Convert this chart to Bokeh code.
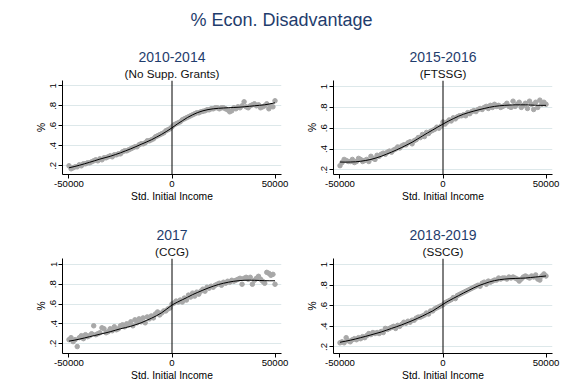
from bokeh.plotting import figure
from bokeh.models import Range1d, FixedTicker, Span, Label, ColumnDataSource, Title
from bokeh.layouts import column, row
from bokeh.embed import file_html
from bokeh.resources import INLINE

FONT = "Liberation Sans"
NAVY = "#1f3d6d"

main_title = "% Econ. Disadvantage"
panel_titles = ["2010-2014", "2015-2016", "2017", "2018-2019"]
panel_subtitles = ["(No Supp. Grants)", "(FTSSG)", "(CCG)", "(SSCG)"]
x_title = "Std. Initial Income"
y_title = "%"
x_ticks = [-50000, 0, 50000]
x_tick_labels = ["-50000", "0", "50000"]
y_ticks = [0.2, 0.4, 0.6, 0.8, 1.0]
y_tick_labels = [".2", ".4", ".6", ".8", "1"]

# bin centres of the binned scatter (every 1000) and of the fitted line (every 2500)
bin_x = [-50000 + 1000 * i for i in range(101)]
fit_x = [-50000 + 2500 * i for i in range(41)]

pts_2010 = [0.20, 0.17, 0.18, 0.19, 0.19, 0.21, 0.20, 0.22, 0.22, 0.23,
            0.23, 0.24, 0.25, 0.26, 0.25, 0.27, 0.26, 0.28, 0.28, 0.29,
            0.30, 0.29, 0.31, 0.31, 0.32, 0.32, 0.34, 0.35, 0.35, 0.36,
            0.37, 0.38, 0.39, 0.39, 0.41, 0.42, 0.42, 0.43, 0.45, 0.45,
            0.46, 0.47, 0.49, 0.50, 0.51, 0.52, 0.53, 0.55, 0.56, 0.57,
            0.59, 0.61, 0.62, 0.63, 0.64, 0.66, 0.67, 0.68, 0.69, 0.70,
            0.71, 0.72, 0.73, 0.73, 0.74, 0.745, 0.75, 0.76, 0.76, 0.77,
            0.77, 0.78, 0.78, 0.77, 0.78, 0.78, 0.77, 0.76, 0.74, 0.75,
            0.78, 0.77, 0.79, 0.78, 0.80, 0.84, 0.79, 0.78, 0.80, 0.81,
            0.82, 0.80, 0.81, 0.78, 0.79, 0.80, 0.82, 0.77, 0.80, 0.79,
            0.85]
fit_2010 = [0.18, 0.192, 0.205, 0.22, 0.235, 0.251, 0.267, 0.281, 0.295, 0.312,
            0.33, 0.35, 0.37, 0.392, 0.415, 0.437, 0.46, 0.487, 0.515, 0.546,
            0.58, 0.617, 0.65, 0.683, 0.71, 0.733, 0.75, 0.762, 0.77, 0.775,
            0.778, 0.781, 0.783, 0.786, 0.79, 0.795, 0.80, 0.805, 0.81, 0.819,
            0.83]

pts_2015 = [0.24, 0.27, 0.30, 0.29, 0.28, 0.28, 0.30, 0.27, 0.28, 0.31,
            0.30, 0.28, 0.29, 0.30, 0.28, 0.33, 0.31, 0.30, 0.34, 0.33,
            0.35, 0.36, 0.35, 0.37, 0.38, 0.37, 0.39, 0.40, 0.42, 0.41,
            0.43, 0.44, 0.44, 0.46, 0.47, 0.45, 0.48, 0.49, 0.51, 0.51,
            0.54, 0.52, 0.56, 0.55, 0.57, 0.58, 0.59, 0.61, 0.60, 0.62,
            0.66, 0.64, 0.66, 0.68, 0.67, 0.70, 0.69, 0.71, 0.72, 0.72,
            0.73, 0.72, 0.75, 0.74, 0.76, 0.77, 0.76, 0.78, 0.79, 0.78,
            0.80, 0.81, 0.79, 0.82, 0.80, 0.83, 0.81, 0.82, 0.80, 0.81,
            0.82, 0.84, 0.81, 0.80, 0.86, 0.81, 0.83, 0.85, 0.80, 0.82,
            0.84, 0.79, 0.86, 0.83, 0.78, 0.85, 0.80, 0.87, 0.83, 0.85,
            0.83]
fit_2015 = [0.275, 0.274, 0.275, 0.277, 0.282, 0.29, 0.30, 0.314, 0.33, 0.35,
            0.37, 0.392, 0.415, 0.44, 0.465, 0.495, 0.525, 0.555, 0.583, 0.612,
            0.64, 0.667, 0.692, 0.715, 0.735, 0.751, 0.765, 0.778, 0.79, 0.801,
            0.81, 0.816, 0.82, 0.823, 0.825, 0.825, 0.825, 0.823, 0.821, 0.82,
            0.82]

pts_2017 = [0.24, 0.26, 0.22, 0.24, 0.17, 0.26, 0.28, 0.25, 0.29, 0.27,
            0.28, 0.30, 0.38, 0.29, 0.30, 0.31, 0.36, 0.35, 0.31, 0.32,
            0.35, 0.33, 0.37, 0.34, 0.35, 0.38, 0.39, 0.37, 0.40, 0.39,
            0.42, 0.38, 0.44, 0.41, 0.45, 0.42, 0.46, 0.41, 0.47, 0.45,
            0.48, 0.46, 0.50, 0.52, 0.49, 0.51, 0.53, 0.53, 0.55, 0.56,
            0.60, 0.61, 0.63, 0.62, 0.64, 0.62, 0.66, 0.64, 0.69, 0.67,
            0.71, 0.68, 0.72, 0.70, 0.73, 0.75, 0.73, 0.77, 0.76, 0.78,
            0.77, 0.79, 0.80, 0.81, 0.79, 0.82, 0.81, 0.83, 0.82, 0.84,
            0.83, 0.84, 0.85, 0.86, 0.80, 0.86, 0.87, 0.85, 0.87, 0.80,
            0.84, 0.86, 0.88, 0.85, 0.83, 0.81, 0.92, 0.91, 0.89, 0.90,
            0.80]
fit_2017 = [0.225, 0.234, 0.245, 0.257, 0.27, 0.282, 0.295, 0.307, 0.32, 0.335,
            0.35, 0.362, 0.375, 0.392, 0.41, 0.433, 0.456, 0.482, 0.512, 0.55,
            0.59, 0.618, 0.643, 0.668, 0.695, 0.718, 0.74, 0.761, 0.78, 0.797,
            0.81, 0.821, 0.83, 0.836, 0.84, 0.841, 0.84, 0.838, 0.836, 0.835,
            0.835]

pts_2018 = [0.24, 0.25, 0.24, 0.29, 0.26, 0.25, 0.27, 0.28, 0.27, 0.29,
            0.28, 0.30, 0.29, 0.31, 0.33, 0.32, 0.34, 0.33, 0.34, 0.33,
            0.35, 0.34, 0.38, 0.37, 0.38, 0.39, 0.40, 0.38, 0.41, 0.40,
            0.42, 0.44, 0.43, 0.45, 0.44, 0.46, 0.46, 0.48, 0.49, 0.49,
            0.50, 0.51, 0.53, 0.52, 0.55, 0.55, 0.57, 0.58, 0.59, 0.60,
            0.61, 0.63, 0.64, 0.65, 0.66, 0.68, 0.67, 0.70, 0.71, 0.72,
            0.73, 0.74, 0.75, 0.76, 0.77, 0.78, 0.79, 0.80, 0.79, 0.82,
            0.83, 0.81, 0.84, 0.83, 0.84, 0.85, 0.85, 0.87, 0.86, 0.87,
            0.87, 0.86, 0.88, 0.87, 0.88, 0.87, 0.86, 0.84, 0.86, 0.88,
            0.89, 0.88, 0.87, 0.89, 0.88, 0.90, 0.86, 0.85, 0.89, 0.91,
            0.89]
fit_2018 = [0.245, 0.255, 0.265, 0.277, 0.29, 0.303, 0.317, 0.331, 0.345, 0.362,
            0.38, 0.397, 0.415, 0.435, 0.455, 0.477, 0.50, 0.525, 0.55, 0.582,
            0.615, 0.645, 0.672, 0.698, 0.725, 0.75, 0.775, 0.797, 0.815, 0.832,
            0.845, 0.854, 0.86, 0.864, 0.866, 0.868, 0.87, 0.875, 0.88, 0.885,
            0.89]

series_pts = [pts_2010, pts_2015, pts_2017, pts_2018]
series_fit = [fit_2010, fit_2015, fit_2017, fit_2018]
y_ranges = [(0.113, 1.053), (0.155, 1.059), (0.10, 1.06), (0.136, 1.06)]

FW = 219
ROW_FH = [94, 95]
ROW_TOP = [42, 42]
ROW_BOTTOM = [42, 30]
COL_LEFT = [62, 42]


def make_panel(i):
    r, c = i // 2, i % 2
    fh = ROW_FH[r]
    p = figure(frame_width=FW, frame_height=fh,
               x_range=Range1d(-53150, 53150), y_range=Range1d(*y_ranges[i]),
               output_backend="svg", toolbar_location=None,
               min_border_left=COL_LEFT[c], min_border_right=10,
               min_border_top=ROW_TOP[r], min_border_bottom=ROW_BOTTOM[r],
               background_fill_color="white", border_fill_color="white")
    p.outline_line_color = None
    p.xgrid.grid_line_color = None
    p.ygrid.grid_line_color = "#dde8ea"
    p.ygrid.grid_line_width = 1
    p.ygrid.ticker = FixedTicker(ticks=y_ticks)

    p.xaxis.ticker = FixedTicker(ticks=x_ticks)
    p.xaxis.major_label_overrides = dict(zip(x_ticks, x_tick_labels))
    p.yaxis.ticker = FixedTicker(ticks=y_ticks)
    p.yaxis.major_label_overrides = dict(zip(y_ticks, y_tick_labels))
    p.yaxis.major_label_orientation = "vertical"
    p.xaxis.axis_label = x_title
    p.yaxis.axis_label = y_title
    for ax in (p.xaxis, p.yaxis):
        ax.axis_line_color = "black"
        ax.axis_line_width = 1
        ax.major_tick_line_color = "black"
        ax.major_tick_in = 0
        ax.major_tick_out = 4
        ax.minor_tick_line_color = None
        ax.major_label_text_font = FONT
        ax.major_label_text_font_size = "9.6px"
        ax.major_label_text_color = "black"
        ax.axis_label_text_font = FONT
        ax.axis_label_text_font_size = "10.3px"
        ax.axis_label_text_font_style = "normal"
        ax.axis_label_text_color = "black"
        ax.major_label_standoff = 2
    p.xaxis.axis_label_standoff = 1
    p.yaxis.axis_label_standoff = 1

    p.add_layout(Span(location=0, dimension="height", line_color="black", line_width=1))

    src = ColumnDataSource(dict(x=bin_x, y=series_pts[i]))
    p.scatter("x", "y", source=src, size=4.5, fill_color="#a8a8a8", line_color="#a8a8a8")
    fsrc = ColumnDataSource(dict(x=fit_x, y=series_fit[i]))
    p.line("x", "y", source=fsrc, line_color="black", line_width=1.0)

    p.add_layout(Title(text=panel_subtitles[i], align="center", standoff=2,
                       text_font=FONT, text_font_size="11.7px", text_font_style="normal",
                       text_color="#111111"), "above")
    p.add_layout(Title(text=panel_titles[i], align="center", standoff=3,
                       text_font=FONT, text_font_size="14px", text_font_style="normal",
                       text_color=NAVY), "above")
    return p


panels = [make_panel(i) for i in range(4)]

t = figure(width=562, height=38, x_range=Range1d(0, 1), y_range=Range1d(0, 1),
           x_axis_type=None, y_axis_type=None, output_backend="svg",
           toolbar_location=None, min_border=0)
t.outline_line_color = None
t.grid.visible = False
t.add_layout(Label(x=281, y=19, x_units="screen", y_units="screen", text=main_title,
                   text_align="center", text_baseline="middle", text_font=FONT,
                   text_font_size="18px", text_color=NAVY))

layout = column(t, row(panels[0], panels[1]), row(panels[2], panels[3]))

with open("out.html", "w") as f:
    f.write(file_html(layout, INLINE))
